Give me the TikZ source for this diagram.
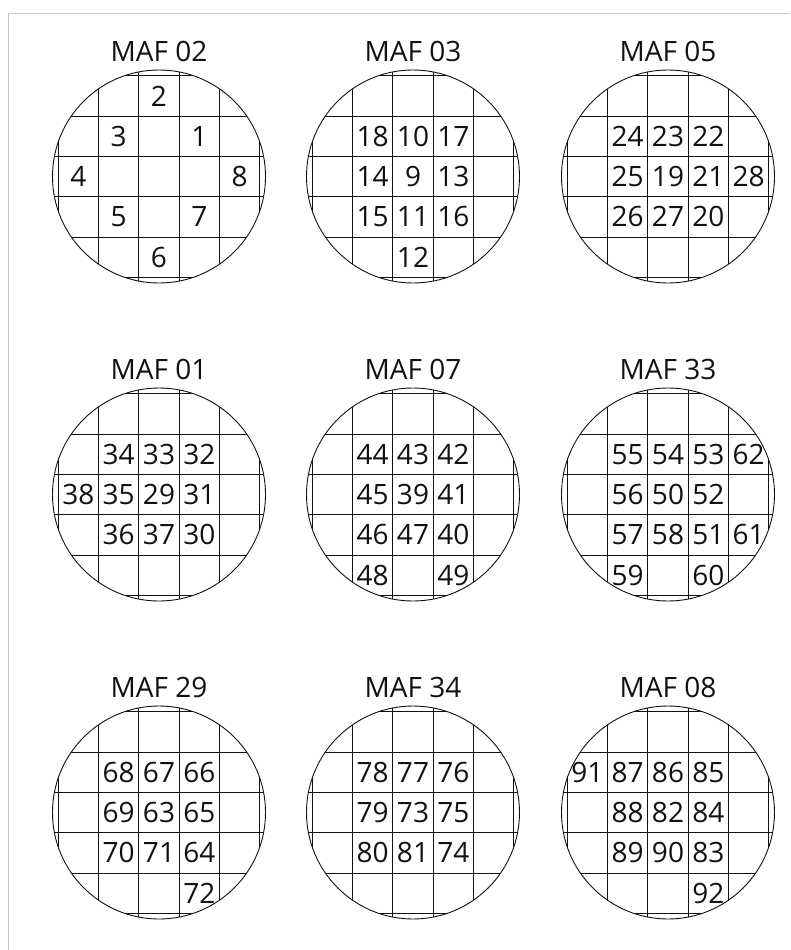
\documentclass[tikz,border=0pt]{standalone}
\usepackage{fontspec}
\setmainfont{Open Sans}
\usetikzlibrary{positioning}
\definecolor{ink}{HTML}{111111}
\definecolor{framegray}{HTML}{C8C8C8}
\tikzset{
  wafer/.style={draw=ink, line width=0.9pt},
  gridline/.style={draw=ink, line width=0.75pt},
  title/.style={font=\fontsize{28}{30}\selectfont, text=ink, inner sep=0pt, anchor=base},
  die/.style={font=\fontsize{28}{30}\selectfont, text=ink, inner sep=0pt},
  frame/.style={draw=framegray, line width=1pt}
}
% one wafer: name, centre x, centre y, title, dies as col/row/label
\newcommand{\drawwafer}[5]{%
  \begin{scope}[shift={(#2,#3)}]
    \node[title] (#1) at (0,-115) {#4};
    \begin{scope}
      \clip (0,0) circle[radius=106.5];
      \foreach \g in {-100.75,-60.45,-20.15,20.15,60.45,100.75} {
        \draw[gridline] (\g,-110) -- (\g,110);
        \draw[gridline] (-110,\g) -- (110,\g);
      }
    \end{scope}
    \draw[wafer] (0,0) circle[radius=106.5];
    \foreach \c/\r/\n in {#5}
      \node[die] (#1-\n) at (\c*40.3,\r*40.3) {\n};
  \end{scope}}

\begin{document}
\begin{tikzpicture}[x=1pt,y=-1pt]
\useasboundingbox (0,0) rectangle (790,950);
\draw[frame] (790,14) -- (8,14) -- (8,950);

% top row
\drawwafer{maf02}{159}{176.5}{MAF 02}{0/-2/2,-1/-1/3,1/-1/1,-2/0/4,2/0/8,-1/1/5,1/1/7,0/2/6}
\drawwafer{maf03}{413}{176.5}{MAF 03}{-1/-1/18,0/-1/10,1/-1/17,-1/0/14,0/0/9,1/0/13,-1/1/15,0/1/11,1/1/16,0/2/12}
\drawwafer{maf05}{668}{176.5}{MAF 05}{-1/-1/24,0/-1/23,1/-1/22,-1/0/25,0/0/19,1/0/21,2/0/28,-1/1/26,0/1/27,1/1/20}

% middle row
\drawwafer{maf01}{159}{494.5}{MAF 01}{-1/-1/34,0/-1/33,1/-1/32,-2/0/38,-1/0/35,0/0/29,1/0/31,-1/1/36,0/1/37,1/1/30}
\drawwafer{maf07}{413}{494.5}{MAF 07}{-1/-1/44,0/-1/43,1/-1/42,-1/0/45,0/0/39,1/0/41,-1/1/46,0/1/47,1/1/40,-1/2/48,1/2/49}
\drawwafer{maf33}{668}{494.5}{MAF 33}{-1/-1/55,0/-1/54,1/-1/53,2/-1/62,-1/0/56,0/0/50,1/0/52,-1/1/57,0/1/58,1/1/51,2/1/61,-1/2/59,1/2/60}

% bottom row
\drawwafer{maf29}{159}{812.5}{MAF 29}{-1/-1/68,0/-1/67,1/-1/66,-1/0/69,0/0/63,1/0/65,-1/1/70,0/1/71,1/1/64,1/2/72}
\drawwafer{maf34}{413}{812.5}{MAF 34}{-1/-1/78,0/-1/77,1/-1/76,-1/0/79,0/0/73,1/0/75,-1/1/80,0/1/81,1/1/74}
\drawwafer{maf08}{668}{812.5}{MAF 08}{-2/-1/91,-1/-1/87,0/-1/86,1/-1/85,-1/0/88,0/0/82,1/0/84,-1/1/89,0/1/90,1/1/83,1/2/92}
\end{tikzpicture}
\end{document}
